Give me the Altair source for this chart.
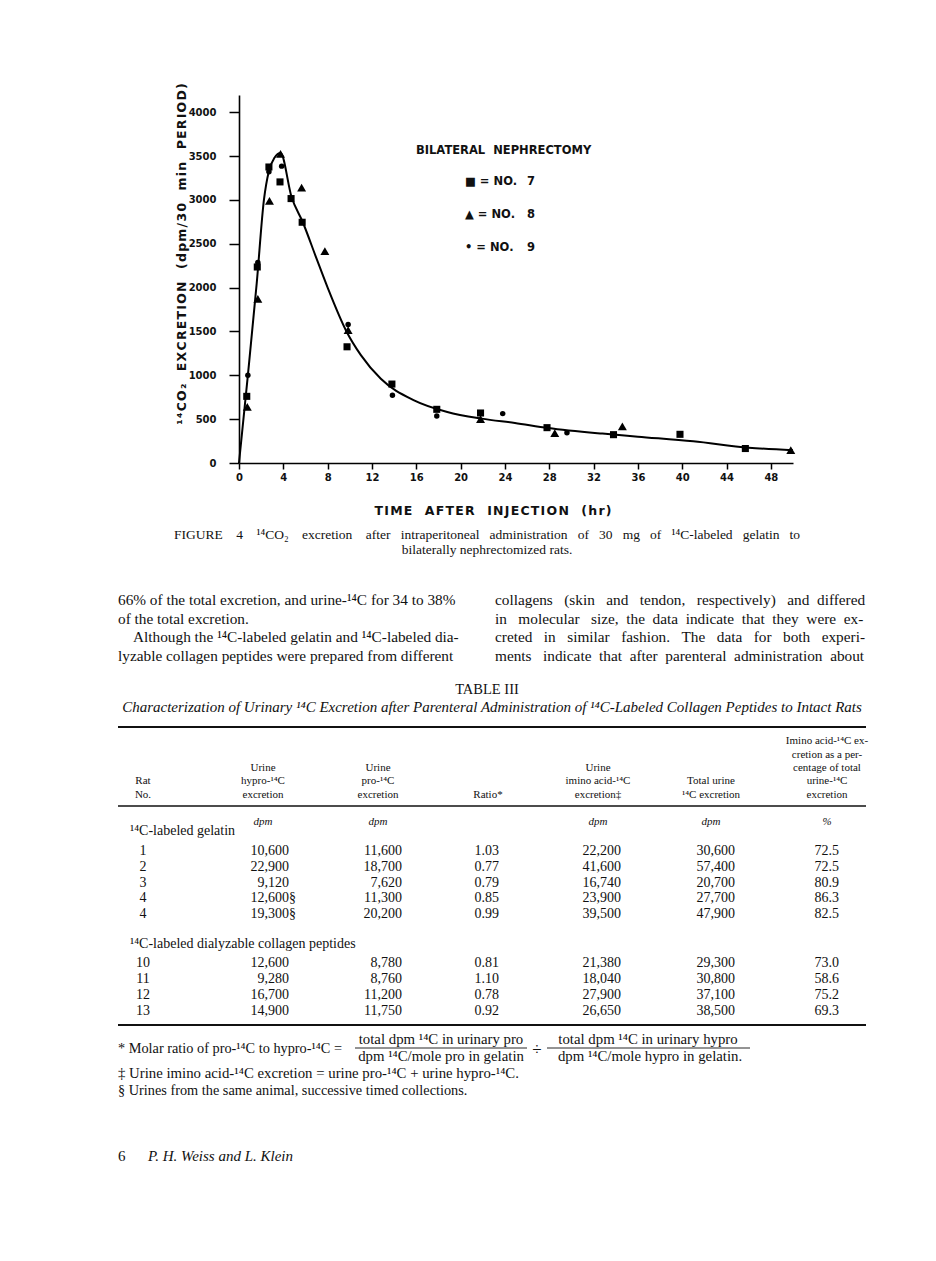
import altair as alt
import pandas as pd

# ---------------- chart data ----------------
rat7_hr = [0.7, 1.65, 2.7, 3.7, 4.7, 5.7, 9.75, 13.8, 17.85, 21.8, 27.8, 33.8, 39.8, 45.7]
rat7_val = [760, 2235, 3375, 3205, 3015, 2745, 1325, 900, 612, 570, 403, 323, 327, 165]
rat8_hr = [0.75, 1.7, 2.75, 3.75, 5.65, 7.75, 9.85, 21.8, 28.5, 34.6, 49.8]
rat8_val = [640, 1870, 2990, 3525, 3140, 2415, 1515, 500, 342, 418, 148]
rat9_hr = [0.8, 1.7, 2.7, 3.85, 9.85, 13.85, 17.85, 23.8, 29.6]
rat9_val = [1000, 2285, 3320, 3385, 1580, 772, 536, 563, 346]
curve_hr = [0, 0.8, 1.6, 2.25, 2.7, 3.2, 3.75, 4.75, 5.75, 7.0, 8.0, 9.7, 11.0,
            12.8, 15.8, 18.8, 21.9, 24.9, 27.9, 32.8, 36.0, 41.0, 46.0, 50.0]
curve_val = [0, 1000, 2050, 3000, 3330, 3480, 3535, 3030, 2748, 2330, 2000, 1500, 1230,
             960, 715, 582, 506, 456, 400, 335, 300, 247, 175, 145]
rat_names = ["NO. 7", "NO. 8", "NO. 9"]

# ---------------- texts ----------------
NB = "\u00a0"
HS = "\u200a"

def spaced(s):
    # light letter spacing, double word gaps
    return HS.join(s.replace(" ", NB + NB))

def justify(s, n):
    words = s.split(" ")
    gaps = [" "] * (len(words) - 1)
    for i in range(n):
        gaps[i % len(gaps)] += NB
    out = words[0]
    for g, w in zip(gaps, words[1:]):
        out += g + w
    return out

y_title = "¹⁴CO₂ EXCRETION (dpm/30 min PERIOD)"
x_title = "TIME AFTER INJECTION (hr)"
legend_title = "BILATERAL NEPHRECTOMY"
legend_lines = ["■ = NO.", "▲ = NO.", "•  = NO."]
legend_nums = ["7", "8", "9"]
caption_lines = ["FIGURE 4 ¹⁴CO₂ excretion after intraperitoneal administration of 30 mg of ¹⁴C-labeled gelatin to",
                 "bilaterally nephrectomized rats."]
body_left = ["66% of the total excretion, and urine-¹⁴C for 34 to 38%",
             "of the total excretion.",
             "Although the ¹⁴C-labeled gelatin and ¹⁴C-labeled dia-",
             "lyzable collagen peptides were prepared from different"]
body_right = ["collagens (skin and tendon, respectively) and differed",
              "in molecular size, the data indicate that they were ex-",
              "creted in similar fashion. The data for both experi-",
              "ments indicate that after parenteral administration about"]
right_extra = [11, 11, 16, 7]
table_title = "TABLE III"
table_sub = "Characterization of Urinary ¹⁴C Excretion after Parenteral Administration of ¹⁴C-Labeled Collagen Peptides to Intact Rats"
headers = [["Rat", "No."],
           ["Urine", "hypro-¹⁴C", "excretion"],
           ["Urine", "pro-¹⁴C", "excretion"],
           ["Ratio*"],
           ["Urine", "imino acid-¹⁴C", "excretion‡"],
           ["Total urine", "¹⁴C excretion"],
           ["Imino acid-¹⁴C ex-", "cretion as a per-", "centage of total", "urine-¹⁴C", "excretion"]]
units = ["", "dpm", "dpm", "", "dpm", "dpm", "%"]
section_names = ["¹⁴C-labeled gelatin", "¹⁴C-labeled dialyzable collagen peptides"]
rat_no = [["1", "2", "3", "4", "4"], ["10", "11", "12", "13"]]
hypro = [["10,600", "22,900", "9,120", "12,600", "19,300"], ["12,600", "9,280", "16,700", "14,900"]]
hypro_mark = [["", "", "", "§", "§"], ["", "", "", ""]]
pro = [["11,600", "18,700", "7,620", "11,300", "20,200"], ["8,780", "8,760", "11,200", "11,750"]]
ratio = [["1.03", "0.77", "0.79", "0.85", "0.99"], ["0.81", "1.10", "0.78", "0.92"]]
imino = [["22,200", "41,600", "16,740", "23,900", "39,500"], ["21,380", "18,040", "27,900", "26,650"]]
total = [["30,600", "57,400", "20,700", "27,700", "47,900"], ["29,300", "30,800", "37,100", "38,500"]]
pct = [["72.5", "72.5", "80.9", "86.3", "82.5"], ["73.0", "58.6", "75.2", "69.3"]]
foot_star = "* Molar ratio of pro-¹⁴C to hypro-¹⁴C ="
frac1 = ["total dpm ¹⁴C in urinary pro", "dpm ¹⁴C/mole pro in gelatin"]
frac2 = ["total dpm ¹⁴C in urinary hypro", "dpm ¹⁴C/mole hypro in gelatin."]
divide_sign = "÷"
foot_dagger = "‡ Urine imino acid-¹⁴C excretion = urine pro-¹⁴C + urine hypro-¹⁴C."
foot_sect = "§ Urines from the same animal, successive timed collections."
page_no = "6"
authors = "P. H. Weiss and L. Klein"

# ---------------- layout (page pixels) ----------------
OX, OY = 239, 95          # plot-area origin on the page
PW, PH = 554, 368         # plot-area size
YMAX = 4196

recs = []
def add(g, t, x, y):
    recs.append(dict(g=g, t=t, px=x - OX, py=y - OY))

add("ytitle", spaced(y_title), 182, 254)
add("xtitle", spaced(x_title), 493, 511)
add("legend", legend_title.replace(" ", NB + NB), 416, 151)
for i, s in enumerate(legend_lines):
    add("legend", s, 465, 182 + i * 33)
    add("legend", legend_nums[i], 527, 182 + i * 33)
add("caption", justify(caption_lines[0], 30), 487, 535)
add("caption", caption_lines[1], 487, 550)
for i, s in enumerate(body_left):
    add("body", s, 133 if i == 2 else 118, 600 + i * 18.5)
for i, s in enumerate(body_right):
    add("body", justify(s, right_extra[i]), 495, 600 + i * 18.5)
add("ttitle", table_title, 487, 690)
add("tsub", table_sub, 492, 707)

col_c = [143, 263, 378, 488, 598, 711, 827]
col_r = [None, 289, 402, 499, 621, 735, 839]
head_y = [741, 755, 768, 781, 795]
for c, lines in enumerate(headers):
    n = len(lines)
    for k, s in enumerate(lines):
        add("head", s, col_c[c], head_y[5 - n + k])
for c, u in enumerate(units):
    if u:
        add("unit", u, col_c[c], 822)

sec_y = [831, 944]
row_y = [[851, 867, 883, 898, 914], [963, 979, 995, 1011]]
for s in range(2):
    add("cell_l", section_names[s], 130, sec_y[s])
    for r in range(len(rat_no[s])):
        y = row_y[s][r]
        add("cell_c", rat_no[s][r], col_c[0], y)
        for c, arr in zip(range(1, 7), [hypro, pro, ratio, imino, total, pct]):
            add("cell_r", arr[s][r], col_r[c], y)
        if hypro_mark[s][r]:
            add("cell_l", hypro_mark[s][r], col_r[1], y)

add("foot_l", foot_star, 118, 1049)
add("foot_c", frac1[0], 441, 1040)
add("foot_c", frac1[1], 441, 1057)
add("divide", divide_sign, 537, 1050)
add("foot_c", frac2[0], 648, 1040)
add("foot_c", frac2[1], 650, 1057)
add("foot_d", foot_dagger, 118, 1074)
add("foot_l", foot_sect, 118, 1091)
add("page", page_no, 118, 1156)
add("author", authors, 148, 1156)

text_df = pd.DataFrame(recs)

rules = pd.DataFrame([
    dict(px=118 - OX, px2=866 - OX, py=727 - OY, w=2.0),
    dict(px=118 - OX, px2=866 - OX, py=806 - OY, w=1.6),
    dict(px=118 - OX, px2=866 - OX, py=1025 - OY, w=2.0),
    dict(px=355 - OX, px2=527 - OX, py=1048 - OY, w=0.9),
    dict(px=547 - OX, px2=750 - OX, py=1048 - OY, w=0.9),
])

styles = {
    "ytitle": dict(font="DejaVu Sans", fontSize=12.5, fontWeight="bold", align="center", angle=270),
    "xtitle": dict(font="DejaVu Sans", fontSize=12.5, fontWeight="bold", align="center"),
    "legend": dict(font="DejaVu Sans", fontSize=11.5, fontWeight="bold", align="left"),
    "caption": dict(font="Liberation Serif", fontSize=13.5, align="center"),
    "body": dict(font="Liberation Serif", fontSize=15.3, align="left"),
    "ttitle": dict(font="Liberation Serif", fontSize=14.5, align="center"),
    "tsub": dict(font="Liberation Serif", fontSize=15, fontStyle="italic", align="center"),
    "head": dict(font="Liberation Serif", fontSize=11, align="center"),
    "unit": dict(font="Liberation Serif", fontSize=11, fontStyle="italic", align="center"),
    "cell_c": dict(font="Liberation Serif", fontSize=14, align="center"),
    "cell_r": dict(font="Liberation Serif", fontSize=14, align="right"),
    "cell_l": dict(font="Liberation Serif", fontSize=14, align="left"),
    "foot_l": dict(font="Liberation Serif", fontSize=14.3, align="left"),
    "foot_d": dict(font="Liberation Serif", fontSize=14.8, align="left"),
    "foot_c": dict(font="Liberation Serif", fontSize=14.8, align="center"),
    "divide": dict(font="Liberation Serif", fontSize=17, align="center"),
    "page": dict(font="Liberation Serif", fontSize=15, align="left"),
    "author": dict(font="Liberation Serif", fontSize=15, fontStyle="italic", align="left"),
}

# ---------------- chart ----------------
xscale = alt.Scale(domain=[0, 50], nice=False, zero=False)
yscale = alt.Scale(domain=[0, YMAX], nice=False)

xaxis = alt.Axis(values=list(range(0, 51, 2)), format="d",
                 labelExpr="datum.value % 4 === 0 && datum.value < 50 ? datum.label : ''",
                 title=None, grid=False, tickSize=6, tickWidth=1.5, domainWidth=1.6,
                 domainColor="black", tickColor="black", labelColor="#111",
                 labelFont="DejaVu Sans", labelFontWeight="bold", labelFontSize=10,
                 labelPadding=3, labelFlush=False, labelOverlap=False)
yaxis = alt.Axis(values=list(range(0, 4001, 250)), format="d",
                 labelExpr="datum.value % 500 === 0 ? datum.label : ''",
                 title=None, grid=False,
                 tickSize={"condition": {"test": "datum.value % 500 === 0", "value": 10}, "value": 5},
                 tickWidth=1.5, domainWidth=1.6, domainColor="black", tickColor="black",
                 labelColor="#111", labelFont="DejaVu Sans", labelFontWeight="bold",
                 labelFontSize=10, labelPadding=13, labelFlush=False, labelOverlap=False)

curve = pd.DataFrame(dict(hr=curve_hr, v=curve_val))
line = alt.Chart(curve).mark_line(color="black", strokeWidth=2, interpolate="monotone").encode(
    x=alt.X("hr:Q", scale=xscale, axis=xaxis),
    y=alt.Y("v:Q", scale=yscale, axis=yaxis),
)

layers = [line]
for hrs, vals, shape, size in [(rat7_hr, rat7_val, "square", 50),
                               (rat8_hr, rat8_val, "triangle-up", 80),
                               (rat9_hr, rat9_val, "circle", 30)]:
    d = pd.DataFrame(dict(hr=hrs, v=vals))
    layers.append(
        alt.Chart(d).mark_point(filled=True, color="black", opacity=1, shape=shape, size=size).encode(
            x=alt.X("hr:Q", scale=xscale),
            y=alt.Y("v:Q", scale=yscale),
        )
    )

rule_layer = alt.Chart(rules).mark_rule(color="#111").encode(
    x=alt.X("px:Q", scale=None), x2="px2:Q", y=alt.Y("py:Q", scale=None),
    strokeWidth=alt.StrokeWidth("w:Q", scale=None),
)
layers.append(rule_layer)
for g, st in styles.items():
    d = text_df[text_df.g == g]
    if len(d) == 0:
        continue
    layers.append(
        alt.Chart(d).mark_text(baseline="middle", color="#111", **st).encode(
            x=alt.X("px:Q", scale=None), y=alt.Y("py:Q", scale=None), text="t:N"
        )
    )

chart = alt.layer(*layers).properties(
    width=PW, height=PH,
    autosize=alt.AutoSizeParams(type="none"),
    padding={"left": OX - 8, "top": OY - 8, "right": 920 - (OX - 8) - PW, "bottom": 1245 - (OY - 8) - PH},
    background="white",
).configure_view(stroke=None)

chart.save("out.html", embed_options={"renderer": "svg", "actions": False})
